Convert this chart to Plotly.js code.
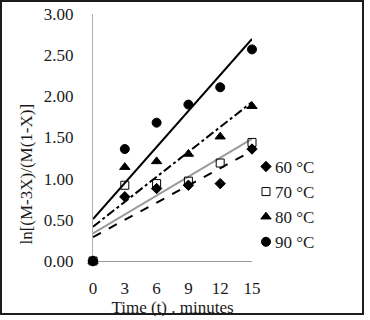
<!DOCTYPE html>
<html>
<head>
<meta charset="utf-8">
<script src="https://cdn.plot.ly/plotly-3.0.1.min.js"></script>
<style>
  html, body { margin: 0; padding: 0; background: #fff; }
  #wrap { position: relative; width: 370px; height: 320px; }
  #chart { position: absolute; left: 0; top: 0; width: 370px; height: 320px; }
  #frame { position: absolute; left: 0px; top: 0px; width: 360px; height: 311px;
           border: 2px solid #1c1c1c; pointer-events: none; }
</style>
</head>
<body>
<div id="wrap">
  <div id="chart"></div>
  <div id="frame"></div>
</div>
<script>
// Reaction time in minutes
const time = [0, 3, 6, 9, 12, 15];

// ln[(M-3X)/(M(1-X))] at each temperature
const y60 = [0, 0.78, 0.88, 0.92, 0.94, 1.36];
const y70 = [0, 0.92, 0.94, 0.97, 1.19, 1.44];
const y80 = [0, 1.14, 1.21, 1.30, 1.51, 1.88];
const y90 = [0, 1.36, 1.68, 1.90, 2.11, 2.57];

const seriesNames = ['60 °C', '70 °C', '80 °C', '90 °C'];
const xTicks = [0, 3, 6, 9, 12, 15];
const yTicks = [0, 0.5, 1.0, 1.5, 2.0, 2.5, 3.0];
const xTitle = 'Time (t) . minutes';
const yTitle = 'ln[(M-3X)/(M(1-X)]';

// Least-squares linear fit
function linfit(x, y) {
  const n = x.length;
  const mx = x.reduce((a, b) => a + b, 0) / n;
  const my = y.reduce((a, b) => a + b, 0) / n;
  let sxy = 0, sxx = 0;
  for (let i = 0; i < n; i++) {
    sxy += (x[i] - mx) * (y[i] - my);
    sxx += (x[i] - mx) * (x[i] - mx);
  }
  const slope = sxy / sxx;
  return { slope: slope, intercept: my - slope * mx };
}

const styles = [
  { symbol: 'diamond', size: 8, line: { dash: 'dash', color: '#000' } },
  { symbol: 'square-open', size: 8, line: { dash: 'solid', color: '#9a9a9a' } },
  { symbol: 'triangle-up', size: 9, line: { dash: 'dashdot', color: '#000' } },
  { symbol: 'circle', size: 9, line: { dash: 'solid', color: '#000' } }
];

const allY = [y60, y70, y80, y90];
const traces = [];

// Trend lines first, so markers sit on top
allY.forEach((ys, i) => {
  const f = linfit(time, ys);
  const x0 = time[0], x1 = time[time.length - 1];
  traces.push({
    x: [x0, x1],
    y: [f.intercept + f.slope * x0, f.intercept + f.slope * x1],
    mode: 'lines',
    line: { color: styles[i].line.color, width: 2, dash: styles[i].line.dash },
    showlegend: false,
    hoverinfo: 'skip',
    cliponaxis: false
  });
});

// Open squares go underneath the filled symbols; legend order is kept by rank
const drawOrder = [1, 0, 2, 3];
drawOrder.forEach(i => {
  traces.push({
    x: time,
    y: allY[i],
    name: seriesNames[i],
    mode: 'markers',
    legendrank: i + 1,
    marker: {
      symbol: styles[i].symbol,
      size: styles[i].size,
      color: '#000',
      line: { color: '#000', width: 1 }
    },
    cliponaxis: false
  });
});

const family = '"Liberation Serif", "Times New Roman", serif';
const font = { family: family, size: 17, color: '#1a1a1a' };

const layout = {
  width: 370,
  height: 320,
  margin: { l: 93, r: 118, t: 14, b: 59 },
  paper_bgcolor: '#fff',
  plot_bgcolor: '#fff',
  font: font,
  showlegend: true,
  legend: {
    x: 0.893, xanchor: 'left',
    y: 0.229, yanchor: 'middle',
    font: font,
    traceorder: 'normal',
    itemwidth: 30,
    bgcolor: 'rgba(0,0,0,0)'
  },
  xaxis: {
    range: [0, 15],
    tickvals: xTicks,
    ticktext: xTicks.map(String),
    showgrid: false,
    zeroline: false,
    showline: true,
    linecolor: '#9a9a9a',
    linewidth: 1,
    ticks: '',
    layer: 'below traces',
    ticklabelstandoff: 12,
    title: { text: xTitle, font: font, standoff: 3 }
  },
  yaxis: {
    range: [0, 3],
    tickvals: yTicks,
    ticktext: yTicks.map(v => v.toFixed(2)),
    showgrid: false,
    zeroline: false,
    showline: true,
    linecolor: '#b0b0b0',
    linewidth: 1,
    ticks: '',
    layer: 'below traces',
    ticklabelstandoff: 15
  },
  // Vertical axis caption, set a little below the plot's middle
  annotations: [{
    text: yTitle,
    xref: 'paper', yref: 'paper',
    x: 0, y: 0.35,
    xanchor: 'center', yanchor: 'middle',
    xshift: -66,
    textangle: -90,
    showarrow: false,
    font: { family: family, size: 17, color: '#1a1a1a' }
  }]
};

Plotly.newPlot('chart', traces, layout, { displayModeBar: false, staticPlot: true })
  .then(gd => {
    // Pull the legend symbols closer to their labels
    gd.querySelectorAll('.legend .legendpoints').forEach(g => {
      const t = g.getAttribute('transform') || '';
      g.setAttribute('transform', (t + ' translate(11,0)').trim());
    });
  });
</script>
</body>
</html>
